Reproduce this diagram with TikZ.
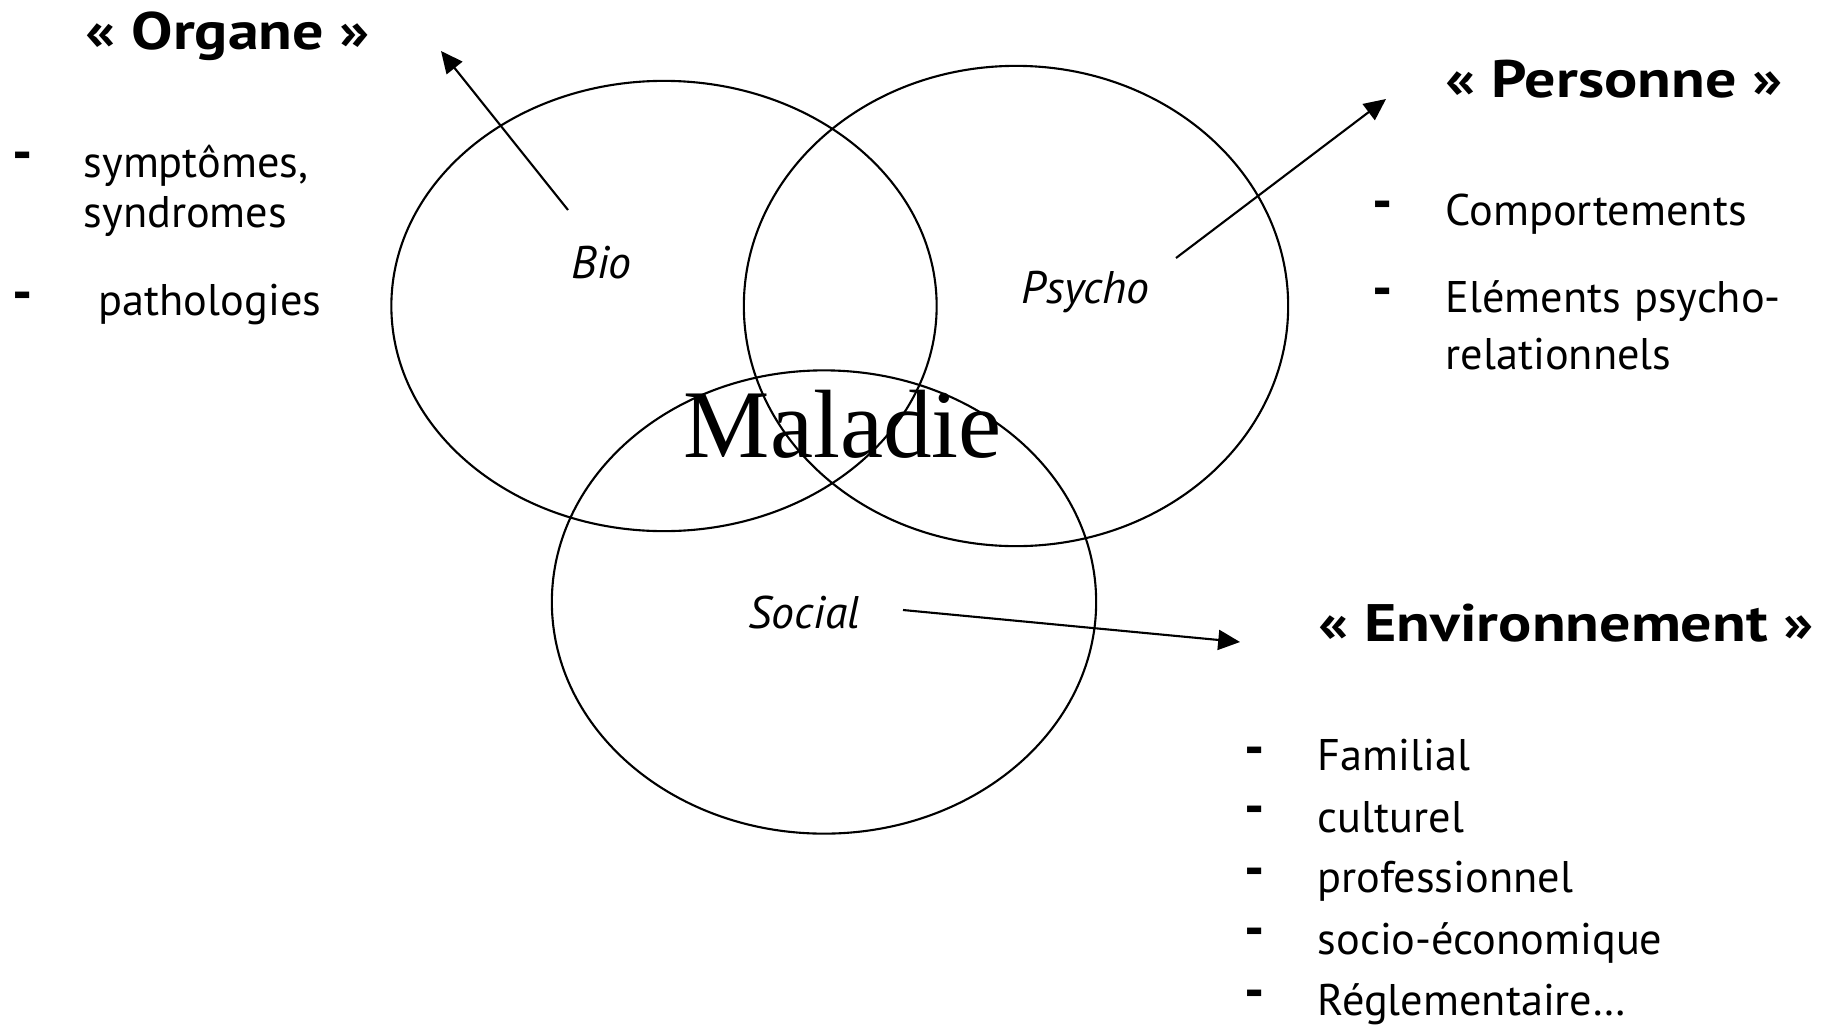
\documentclass[tikz,border=0pt]{standalone}
\usepackage{fontspec}
\setmainfont{PT Sans}
\newfontfamily\headfont[FakeStretch=1.175]{PT Sans}
\newfontfamily\maladiefont{Liberation Serif}
\usetikzlibrary{shapes.geometric,arrows.meta}

\begin{document}
\begin{tikzpicture}[
    x=0.01cm, y=-0.01cm, % one unit = one pixel of the slide
    zone/.style={draw, ellipse, inner sep=0pt, line width=0.6pt},
    heading/.style={font=\headfont\fontsize{15}{18}\selectfont\bfseries, anchor=base west, inner sep=0pt},
    item/.style={font=\fontsize{12.6}{15}\selectfont, anchor=base west, inner sep=0pt},
    dashmark/.style={font=\fontsize{16}{18}\selectfont\bfseries, inner sep=0pt},
    part/.style={font=\fontsize{13}{15}\selectfont\itshape, anchor=base west, inner sep=0pt},
    >={Triangle[length=6.2pt, width=5.7pt]}
]
\useasboundingbox (0,0) rectangle (1825,1024);

% Circles
\node[zone, minimum width=5.45cm, minimum height=4.50cm] (bio) at (664,306) {};
\node[zone, minimum width=5.44cm, minimum height=4.80cm] (psycho) at (1016,306) {};
\node[zone, minimum width=5.44cm, minimum height=4.63cm] (social) at (824,602) {};

% Labels
\node[part] (biolabel) at (571,278) {Bio};
\node[part] (psycholabel) at (1021,303) {Psycho};
\node[part] (sociallabel) at (748,628) {Social};
\node[anchor=base west, inner sep=0pt, font=\maladiefont\fontsize{27.6}{30}\selectfont] (maladie) at (683,457) {Maladie};

% Organe
\node[heading] (organe) at (85,49) {« Organe »};
\node[dashmark] (o1) at (23,162) {-};
\node[item] (symptomes) at (83,177) {symptômes,};
\node[item] (syndromes) at (83,227) {syndromes};
\node[dashmark] (o2) at (23,302) {-};
\node[item] (pathologies) at (98,315) {pathologies};

% Personne
\node[heading] (personne) at (1445,97) {« Personne »};
\node[dashmark] (p1) at (1383,211) {-};
\node[item] (comportements) at (1445,225) {Comportements};
\node[dashmark] (p2) at (1383,298) {-};
\node[item] (elements) at (1445,312) {\makebox[3.35cm][s]{Eléments psycho-}};
\node[item] (relationnels) at (1445,369) {relationnels};

% Environnement
\node[heading] (environnement) at (1318,641) {« Environnement »};
\node[dashmark] (e1) at (1255,757) {-};
\node[item] (familial) at (1317,770) {Familial};
\node[dashmark] (e2) at (1255,816) {-};
\node[item] (culturel) at (1317,832) {culturel};
\node[dashmark] (e3) at (1255,878) {-};
\node[item] (professionnel) at (1317,892) {professionnel};
\node[dashmark] (e4) at (1255,938) {-};
\node[item] (socioeco) at (1317,954) {socio-économique};
\node[dashmark] (e5) at (1255,1000) {-};
\node[item] (reglementaire) at (1317,1015) {Réglementaire…};

% Arrow ends
\coordinate (biofrom) at (568,210);
\coordinate (bioto) at (441,51);
\coordinate (psychofrom) at (1176,258);
\coordinate (psychoto) at (1386,99);
\coordinate (socialfrom) at (903,610);
\coordinate (socialto) at (1240,642);

% Edges
\draw[->, line width=0.6pt] (biofrom) -- (bioto);
\draw[->, line width=0.6pt] (psychofrom) -- (psychoto);
\draw[->, line width=0.6pt] (socialfrom) -- (socialto);

\end{tikzpicture}
\end{document}
